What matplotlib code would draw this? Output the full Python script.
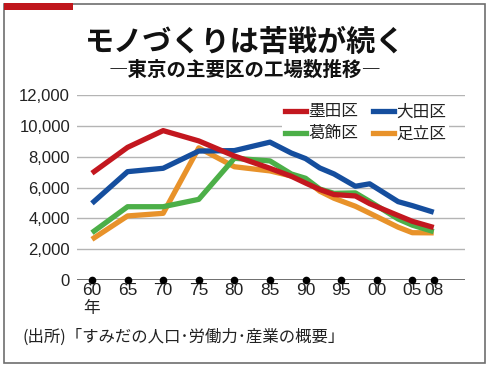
import matplotlib
matplotlib.use("Agg")
import matplotlib.pyplot as plt
from matplotlib.patches import Rectangle
from matplotlib.lines import Line2D

plt.rcParams['font.family'] = ['Noto Sans CJK JP', 'DejaVu Sans']

# years (1960 = 60 ... 2008 = 108)
years = [60, 65, 70, 75, 80, 85, 88, 90, 92, 94, 97, 99, 103, 105, 108]
sumida = [6930, 8610, 9700, 9030, 8050, 7250, 6730, 6290, 5870, 5540, 5450, 4950, 4180, 3800, 3400]
ota = [4970, 7030, 7250, 8370, 8400, 8950, 8240, 7880, 7270, 6880, 6080, 6240, 5080, 4820, 4390]
katsushika = [3060, 4750, 4750, 5230, 7900, 7730, 6880, 6600, 5900, 5620, 5650, 5100, 3950, 3550, 3130]
adachi = [2630, 4150, 4320, 8580, 7350, 7080, 6750, 6500, 5760, 5300, 4780, 4330, 3420, 3060, 3050]

tick_years = [60, 65, 70, 75, 80, 85, 90, 95, 100, 105, 108]
tick_labels = ['60', '65', '70', '75', '80', '85', '90', '95', '00', '05', '08']
y_ticks = [0, 2000, 4000, 6000, 8000, 10000, 12000]

W, H = 490, 365
fig = plt.figure(figsize=(W / 100, H / 100), dpi=100)
fig.patch.set_facecolor('white')

# outer frame and red accent bar
fig.patches.append(Rectangle((4 / W, 1 - 363 / H), 481 / W, 359 / H, transform=fig.transFigure,
                             fill=False, edgecolor='#6e6e6e', linewidth=1.2))
fig.patches.append(Rectangle((4 / W, 1 - 10 / H), 69 / W, 7 / H, transform=fig.transFigure,
                             facecolor='#c0161c', edgecolor='none'))

fig.text(245 / W, 1 - 42 / H, 'モノづくりは苦戦が続く', ha='center', va='center',
         fontsize=21, fontweight='bold', color='#111111')
fig.text(245 / W, 1 - 70 / H, '―東京の主要区の工場数推移―', ha='center', va='center',
         fontsize=14, fontweight='bold', color='#111111')

ax = fig.add_axes([77 / W, 1 - 279.75 / H, 388 / W, 184.5 / H])
x0 = 57.9
x1 = x0 + 388 / 7.12
ax.set_xlim(x0, x1)
ax.set_ylim(0, 12000)
for s in ax.spines.values():
    s.set_visible(False)

for v in y_ticks[1:]:
    ax.axhline(v, color='#b4b4b4', linewidth=1.0, zorder=1)
ax.axhline(0, color='#555555', linewidth=1.2, zorder=1)

series = [
    (sumida, '#c3171f', '墨田区'),
    (ota, '#154e9e', '大田区'),
    (katsushika, '#4caf48', '葛飾区'),
    (adachi, '#e8922a', '足立区'),
]
for vals, col, name in [series[3], series[2], series[1], series[0]]:
    ax.plot(years, vals, color=col, linewidth=3.8, solid_capstyle='butt',
            solid_joinstyle='round', zorder=3, clip_on=False)

ax.plot(tick_years, [0] * len(tick_years), 'o', color='black', markersize=4.5,
        zorder=4, clip_on=False)

ax.set_yticks(y_ticks)
ax.set_yticklabels([f'{v:,}' for v in y_ticks], family='Liberation Sans', fontsize=12)
ax.set_xticks(tick_years)
ax.set_xticklabels(tick_labels, family='Liberation Sans', fontsize=12.5)
ax.tick_params(length=0, pad=5, colors='#222222')
ax.tick_params(axis='x', pad=2)
ax.text(60, -1850, '年', ha='center', va='center', fontsize=12, color='#222222')

handles = [Line2D([], [], color=c, linewidth=3.8) for _, c, _ in series]
names = [n for _, _, n in series]
order = [0, 2, 1, 3]
leg = ax.legend([handles[i] for i in order], [names[i] for i in order], ncol=2,
                loc='upper left', bbox_to_anchor=(282 / W, 1 - 100 / H),
                bbox_transform=fig.transFigure, fontsize=12, frameon=True,
                handlelength=1.25, handletextpad=0.15, columnspacing=0.85,
                labelspacing=0.3, borderpad=0.2, borderaxespad=0)
leg.get_frame().set_facecolor('white')
leg.get_frame().set_edgecolor('none')
leg.get_frame().set_alpha(1)
for t in leg.get_texts():
    t.set_color('#222222')

fig.text(22 / W, 1 - 337 / H, '(出所)「すみだの人口･労働力･産業の概要」', ha='left', va='center',
         fontsize=11.8, color='#222222')

fig.savefig('out.png', dpi=100)
